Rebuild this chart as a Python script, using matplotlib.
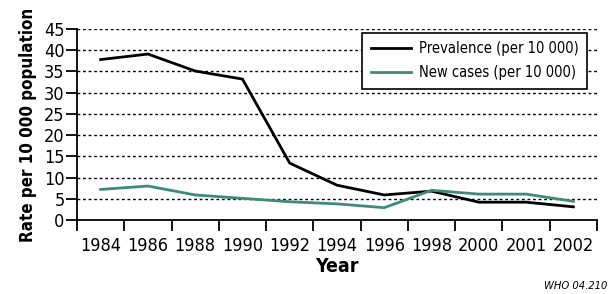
import numpy as np
import matplotlib
matplotlib.use('Agg')
import matplotlib.pyplot as plt

# data
years = ['1984', '1986', '1988', '1990', '1992', '1994', '1996', '1998', '2000', '2001', '2002']
prevalence = [37.8, 39.1, 35.1, 33.2, 13.4, 8.2, 5.9, 6.8, 4.2, 4.2, 3.1]
new_cases = [7.2, 8.0, 5.9, 5.1, 4.3, 3.8, 2.9, 7.0, 6.1, 6.1, 4.4]

plt.rcParams['font.family'] = ['DejaVu Sans']
plt.rcParams['font.stretch'] = 'condensed'

fig = plt.figure(figsize=(6.15, 2.94), dpi=100)
ax = fig.add_axes([77 / 615, 74 / 294, 520 / 615, 191 / 294])

x = np.arange(len(years))
ax.plot(x, prevalence, color='black', lw=2, label='Prevalence (per 10 000)')
ax.plot(x, new_cases, color='#3f8a7a', lw=2, label='New cases (per 10 000)')

ax.set_xlim(-0.5, len(years) - 0.5)
ax.set_ylim(0, 45)
ax.set_yticks(np.arange(0, 46, 5))
ax.set_xticks(x)
ax.set_xticklabels(years)
ax.set_xticks(np.arange(-0.5, len(years)), minor=True)
ax.tick_params(axis='x', which='major', length=0, labelsize=13, pad=12)
ax.tick_params(axis='x', which='minor', length=8, width=1.3, direction='out')
ax.tick_params(axis='y', length=8, width=1.3, labelsize=13, pad=1)

for v in np.arange(5, 46, 5):
    ax.axhline(v, color='black', lw=1, ls=(0, (2, 2)), zorder=0)

for s in ['top', 'right']:
    ax.spines[s].set_visible(False)
ax.spines['left'].set_linewidth(1.3)
ax.spines['bottom'].set_linewidth(1.3)

ax.set_xlabel('Year', fontsize=14, fontweight='bold', labelpad=2)
ax.set_ylabel('Rate per 10 000 population', fontsize=12.2, fontweight='bold', labelpad=5)

leg = ax.legend(loc='upper right', bbox_to_anchor=(0.981, 0.981), borderaxespad=0,
                fontsize=10.5, frameon=True, fancybox=False, handlelength=2.7,
                borderpad=0.6, labelspacing=0.6, handletextpad=0.55)
leg.get_frame().set_edgecolor('black')
leg.get_frame().set_linewidth(1.2)
leg.get_frame().set_alpha(1)

fig.text(0.988, 0.01, 'WHO 04.210', fontsize=8, style='italic', ha='right', va='bottom')

plt.savefig('out.png', dpi=100)
